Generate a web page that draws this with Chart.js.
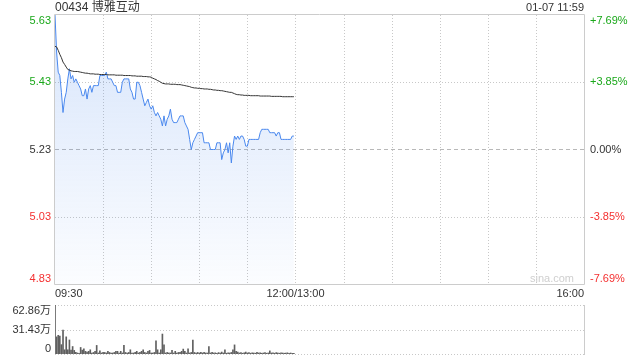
<!DOCTYPE html>
<html><head><meta charset="utf-8">
<script src="https://cdn.jsdelivr.net/npm/chart.js@4.4.1/dist/chart.umd.min.js"></script>
<style>
html,body{margin:0;padding:0;background:#fff;}
#wrap{position:relative;width:640px;height:360px;overflow:hidden;background:#fff;}
canvas{position:absolute;left:0;}
#c1{top:0;} #c2{top:300px;}
</style></head><body>
<div id="wrap"><canvas id="c1" width="640" height="300"></canvas><canvas id="c2" width="640" height="60"></canvas></div>
<script>
const title = '00434 博雅互动';
const stamp = '01-07 11:59';
const watermark = 'sina.com';
const prevClose = 5.23;
const priceTicks = [5.63, 5.43, 5.23, 5.03, 4.83];
const pctValues = [7.69, 3.85, 0, -3.85, -7.69];
const pctTicks = ['+7.69%', '+3.85%', '0.00%', '-3.85%', '-7.69%'];
const timeTickMinutes = [0, 150, 330];
const timeTickLabels = ['09:30', '12:00/13:00', '16:00'];
const gridMinutes = [30, 60, 90, 120, 150, 180, 210, 240, 270, 300];
const volTicks = [62.86, 31.43, 0];
const volTickLabels = ['62.86万', '31.43万', '0'];

// one value per minute from 09:30 to 11:59
const prices = [
5.63,5.52,5.46,5.45,5.40,5.34,5.38,5.40,5.44,5.47,
5.44,5.45,5.43,5.44,5.43,5.42,5.41,5.39,5.39,5.41,
5.38,5.41,5.42,5.40,5.42,5.42,5.42,5.42,5.45,5.45,
5.45,5.45,5.46,5.44,5.44,5.44,5.43,5.42,5.42,5.40,
5.40,5.40,5.43,5.44,5.44,5.44,5.44,5.41,5.40,5.38,
5.38,5.43,5.43,5.42,5.40,5.38,5.36,5.37,5.38,5.36,
5.35,5.36,5.34,5.33,5.34,5.33,5.32,5.30,5.33,5.30,
5.32,5.33,5.35,5.32,5.31,5.31,5.31,5.32,5.33,5.33,
5.33,5.31,5.30,5.29,5.26,5.23,5.25,5.26,5.27,5.28,
5.28,5.28,5.28,5.25,5.25,5.25,5.25,5.23,5.23,5.23,
5.23,5.25,5.25,5.25,5.20,5.22,5.23,5.25,5.22,5.25,
5.19,5.24,5.27,5.26,5.27,5.26,5.27,5.27,5.26,5.24,
5.24,5.26,5.26,5.26,5.26,5.26,5.26,5.26,5.28,5.29,
5.29,5.29,5.29,5.29,5.28,5.28,5.28,5.28,5.27,5.28,
5.28,5.26,5.26,5.26,5.26,5.26,5.26,5.26,5.27,5.27
];
const avgPrices = [
5.537,5.535,5.525,5.513,5.503,5.490,5.483,5.475,5.468,5.466,
5.464,5.463,5.462,5.462,5.462,5.461,5.460,5.459,5.458,5.457,
5.457,5.456,5.455,5.455,5.455,5.454,5.454,5.454,5.453,5.453,
5.453,5.453,5.453,5.452,5.452,5.452,5.452,5.452,5.451,5.451,
5.451,5.451,5.451,5.450,5.450,5.450,5.450,5.450,5.449,5.449,
5.449,5.448,5.448,5.448,5.448,5.447,5.447,5.447,5.446,5.446,
5.445,5.442,5.440,5.438,5.435,5.433,5.430,5.427,5.426,5.425,
5.425,5.425,5.424,5.424,5.424,5.424,5.423,5.423,5.423,5.422,
5.421,5.420,5.419,5.418,5.417,5.415,5.414,5.413,5.413,5.412,
5.412,5.411,5.411,5.410,5.410,5.410,5.409,5.409,5.408,5.407,
5.407,5.406,5.406,5.405,5.405,5.404,5.403,5.402,5.401,5.400,
5.400,5.398,5.396,5.394,5.393,5.393,5.392,5.392,5.391,5.391,
5.391,5.391,5.390,5.390,5.390,5.390,5.390,5.390,5.389,5.389,
5.389,5.389,5.389,5.389,5.389,5.388,5.388,5.388,5.388,5.388,
5.388,5.388,5.387,5.387,5.387,5.387,5.387,5.387,5.387,5.387
];
// volume in 万
const volumes = [
62.86,22,24,23,12,30.6,5.4,22,5.4,18,
5,9.6,4.6,2,1.3,1,8.4,5,6.7,3.4,
2.5,3.4,5.4,1.3,2,3.4,11,1.3,4,1.3,
2,2,1.3,3.4,2,1.3,1.3,2,3.4,3.4,
1.3,3.4,1.3,11,2,1.3,2,5.4,1.3,1.3,
2,3.4,1.3,2,3.4,5.4,2,1.3,3.4,4.6,
1.3,1.3,2,17,5.4,1.3,5.4,25.6,11.7,1.3,
2,1.3,1.3,4.6,1.3,3.4,1.3,2,2,3.4,
6.3,3.4,1.3,6.7,1.3,2,18,2,1.3,2,
1.3,2,1.3,2,1.3,1.3,9.6,1.3,2,1.3,
1.5,1,1.8,1.3,2.5,1.3,5.4,1,1.5,1.3,
2,5.4,11.7,3.4,2.5,1.3,1.8,1,1.5,2.5,
1.3,1.8,1,1.5,1.3,1,2,1.3,1.5,1,
1.3,1.8,1,1.3,4,1.3,1.5,1,1.8,1.3,
1,1.5,1.3,1,1.3,1.5,1,1.3,0.8,1
];

const FONT = "11px Arial, 'Liberation Sans', 'Noto Sans CJK SC', sans-serif";
const FONT12 = "12px Arial, 'Liberation Sans', 'Noto Sans CJK SC', sans-serif";
const UP = '#1aa81a', DOWN = '#f43030', TXT = '#333333';
const GRID = '#c8c8c8', BORDER = '#cccccc';

function line(ctx, x1, y1, x2, y2, color, dash){
  ctx.save(); ctx.strokeStyle = color; ctx.lineWidth = 1; ctx.setLineDash(dash || []);
  ctx.beginPath(); ctx.moveTo(x1, y1); ctx.lineTo(x2, y2); ctx.stroke(); ctx.restore();
}
function txt(ctx, s, x, y, align, base, color, font){
  ctx.save(); ctx.font = font || FONT; ctx.fillStyle = color; ctx.textAlign = align; ctx.textBaseline = base;
  ctx.fillText(s, x, y); ctx.restore();
}
function baseFor(i, n){ return i === 0 ? 'top' : (i === n - 1 ? 'bottom' : 'middle'); }

const mainDecor = {
  id: 'mainDecor',
  beforeDatasetsDraw(chart){
    const {ctx, chartArea: a, scales} = chart;
    gridMinutes.forEach(m => {
      const x = Math.round(scales.x.getPixelForValue(m)) + 0.5;
      line(ctx, x, a.top, x, a.bottom, GRID, [1, 2]);
    });
    priceTicks.forEach((p, i) => {
      if (i === 0 || i === priceTicks.length - 1) return;
      const y = Math.round(scales.y.getPixelForValue(p)) + 0.5;
      if (p === prevClose) line(ctx, a.left, y, a.right, y, '#b8b8b8', [4, 3]);
      else line(ctx, a.left, y, a.right, y, GRID, [1, 2]);
    });
  },
  afterDraw(chart){
    const {ctx, chartArea: a, scales} = chart;
    const L = Math.round(a.left) - 0.5, R = Math.round(a.right) + 0.5;
    const T = Math.round(a.top) - 0.5, B = Math.round(a.bottom) + 0.5;
    line(ctx, L, T, R, T, BORDER); line(ctx, L, B, R, B, BORDER);
    line(ctx, L, T, L, B, BORDER); line(ctx, R, T, R, B, BORDER);
    txt(ctx, title, a.left, 8, 'left', 'middle', TXT, FONT12);
    txt(ctx, stamp, a.right, 8, 'right', 'middle', TXT);
    priceTicks.forEach((p, i) => {
      const y = scales.y.getPixelForValue(p);
      const c = p > prevClose ? UP : (p < prevClose ? DOWN : TXT);
      txt(ctx, p.toFixed(2), a.left - 4, y, 'right', baseFor(i, priceTicks.length), c);
    });
    pctValues.forEach((v, i) => {
      const y = scales.y2.getPixelForValue(v);
      const c = v > 0 ? UP : (v < 0 ? DOWN : TXT);
      txt(ctx, pctTicks[i], a.right + 6, y, 'left', baseFor(i, pctValues.length), c);
    });
    timeTickMinutes.forEach((m, i) => {
      const x = scales.x.getPixelForValue(m);
      const al = i === 0 ? 'left' : (i === timeTickMinutes.length - 1 ? 'right' : 'center');
      txt(ctx, timeTickLabels[i], x, a.bottom + 10, al, 'middle', TXT);
    });
    txt(ctx, watermark, a.right - 10, a.bottom - 5, 'right', 'middle', '#cfcfcf');
  }
};

new Chart(document.getElementById('c1'), {
  data: {
    datasets: [
      { type: 'line', data: avgPrices.map((p, i) => ({x: i, y: p})), borderColor: '#333333', borderWidth: 1,
        pointRadius: 0, fill: false, tension: 0 },
      { type: 'line', data: prices.map((p, i) => ({x: i, y: p})), borderColor: '#4a88ee', borderWidth: 1,
        pointRadius: 0, tension: 0, fill: 'start',
        backgroundColor: (c) => {
          const a = c.chart.chartArea;
          if (!a) return 'rgba(74,136,238,0.12)';
          const g = c.chart.ctx.createLinearGradient(0, a.top, 0, a.bottom);
          g.addColorStop(0, 'rgba(74,136,238,0.22)');
          g.addColorStop(1, 'rgba(74,136,238,0.02)');
          return g;
        } }
    ]
  },
  options: {
    responsive: false, animation: false, devicePixelRatio: 1,
    layout: { padding: { left: 55, right: 56, top: 15, bottom: 16 } },
    scales: {
      x: { type: 'linear', min: 0, max: 330, display: false },
      y: { type: 'linear', min: 4.83, max: 5.63, display: false },
      y2: { type: 'linear', min: -7.69, max: 7.69, display: false }
    },
    plugins: { legend: { display: false }, tooltip: { enabled: false } }
  },
  plugins: [mainDecor]
});

const volDecor = {
  id: 'volDecor',
  beforeDatasetsDraw(chart){
    const {ctx, chartArea: a, scales} = chart;
    volTicks.forEach(v => {
      const y = Math.round(scales.y.getPixelForValue(v)) + 0.5;
      line(ctx, a.left, y, a.right, y, GRID, [1, 2]);
    });
  },
  afterDraw(chart){
    const {ctx, chartArea: a, scales} = chart;
    const R = Math.round(a.right) + 0.5;
    line(ctx, R, a.top, R, a.bottom + 1, BORDER);
    volTicks.forEach((v, i) => {
      const y = scales.y.getPixelForValue(v);
      txt(ctx, volTickLabels[i], a.left - 4, y, 'right', baseFor(i, volTicks.length), TXT);
    });
  }
};

new Chart(document.getElementById('c2'), {
  type: 'bar',
  data: { datasets: [{ data: volumes.map((v, i) => ({x: i, y: v})), backgroundColor: '#606060',
    borderWidth: 0, barThickness: 1 }] },
  options: {
    responsive: false, animation: false, devicePixelRatio: 1,
    layout: { padding: { left: 55, right: 56, top: 5, bottom: 6 } },
    scales: {
      x: { type: 'linear', min: 0, max: 330, offset: false, display: false },
      y: { type: 'linear', min: 0, max: 62.86, display: false }
    },
    plugins: { legend: { display: false }, tooltip: { enabled: false } }
  },
  plugins: [volDecor]
});
</script>
</body></html>
